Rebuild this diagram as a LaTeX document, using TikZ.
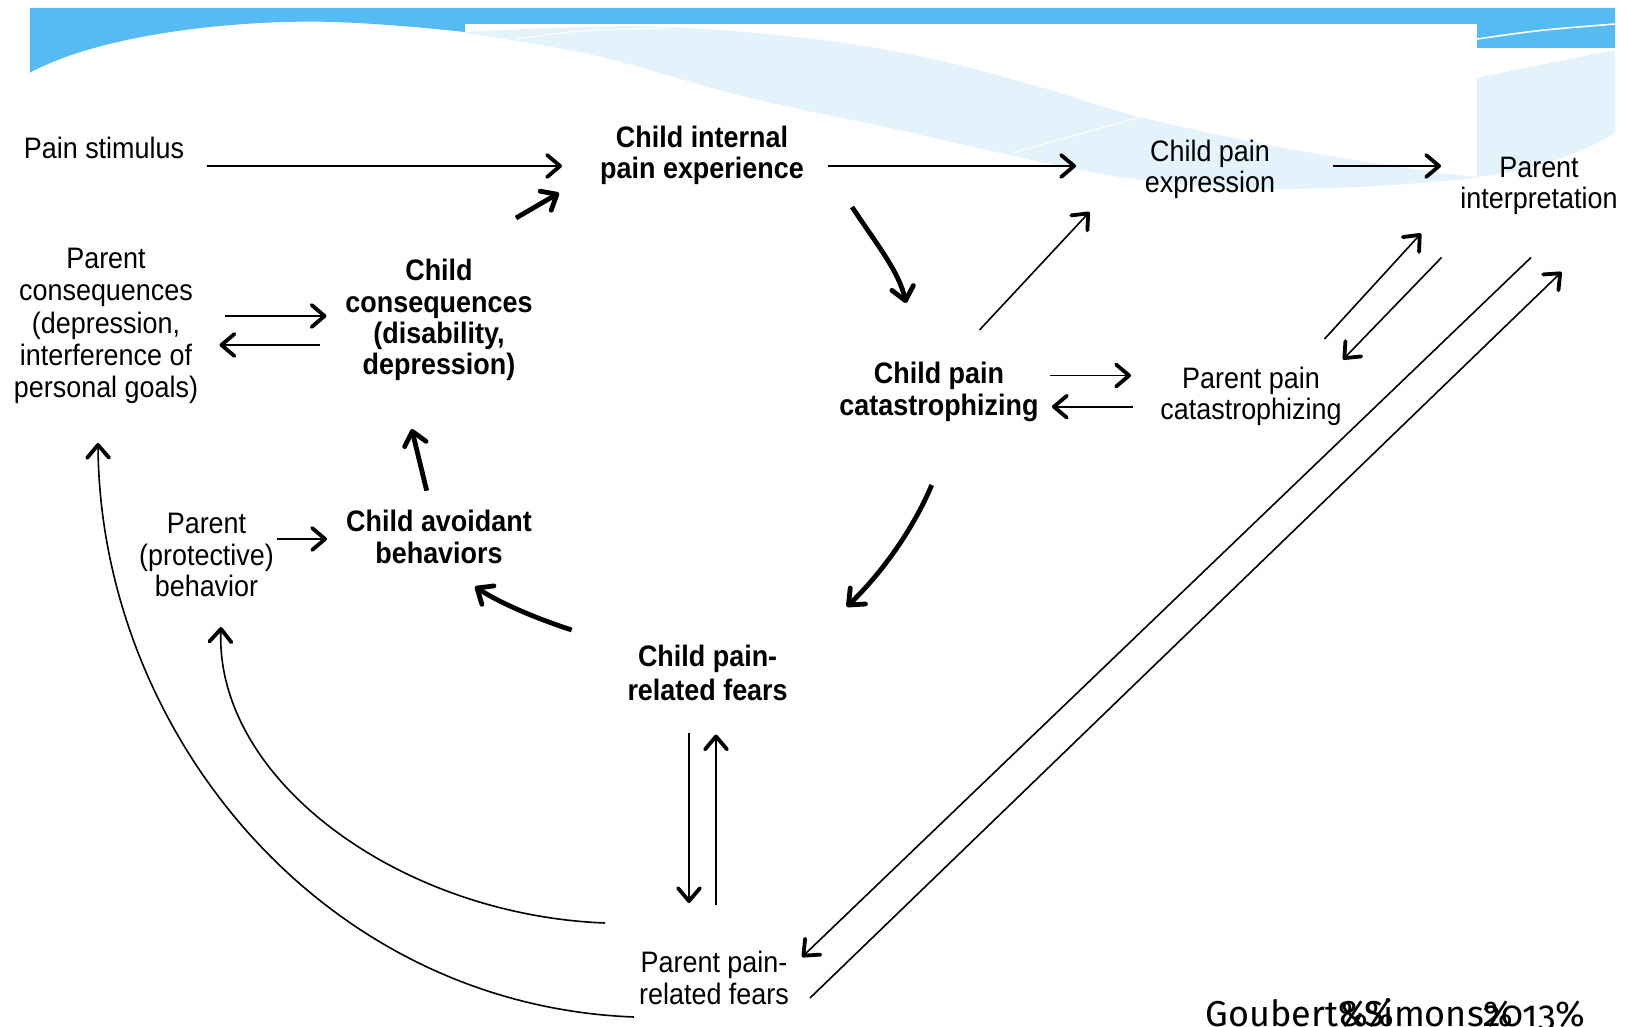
\documentclass[tikz,border=0pt]{standalone}
\usepackage{fontspec}
\setmainfont{Liberation Sans}[FakeStretch=0.91]
\newfontfamily\citefont{Fira Sans}[Numbers=OldStyle]
\usetikzlibrary{arrows.meta}
\definecolor{bannerblue}{RGB}{86,187,243}
\definecolor{wavelight}{RGB}{227,242,251}
\begin{document}
\begin{tikzpicture}[x=0.5pt,y=-0.5pt,
  lbl/.style={font=\fontsize{14.8}{15.6}\selectfont, align=center, inner sep=0pt},
  blbl/.style={font=\fontsize{14.8}{15.6}\selectfont\bfseries, align=center, inner sep=0pt},
  thinarr/.style={line width=0.8pt, -{Straight Barb[length=6.5pt,width=11pt,line width=1.9pt,round]}},
  thickarr/.style={line width=2.4pt, -{Straight Barb[length=6.5pt,width=11pt,line width=2.4pt,round]}},
  wline/.style={white, line width=0.6pt}
]
\useasboundingbox (0,0) rectangle (1627,1027);
% banner
\fill[bannerblue] (30,8) -- (1615,8) -- (1615,48) -- (1477,48) -- (1477,24) -- (465,24) -- (465,32)
  .. controls (400,25) and (340,21) .. (300,21.7)
  .. controls (200,23) and (90,40) .. (30,72.7) -- cycle;
\draw[wline, line width=0.8pt] (1477,39) .. controls (1540,30) .. (1615,24);
\fill[wavelight] plot[smooth, tension=0.6] coordinates {(465,32) (555,28) (670,27) (823,40) (937,60) (1040,87) (1140,117) (1280,147) (1420,170) (1477,177)}
  -- plot[smooth, tension=0.6] coordinates {(1477,178) (1360,187) (1240,188) (1120,177) (1000,153) (899,130) (746,97) (593,55) (465,33)} -- cycle;
\fill[wavelight] (1477,78) .. controls (1540,65) .. (1615,50) -- (1615,133)
  .. controls (1570,160) and (1520,172) .. (1477,177) -- cycle;
\draw[wline] (516,39) .. controls (580,30) .. (670,28);
\draw[wline] (1012,153) -- (1140,117);

% nodes
\node[lbl] (ps) at (104,148) {Pain stimulus};
\node[blbl] (ci) at (702,155) {Child internal\\pain experience};
\node[lbl] (cpe) at (1210,169.5) {Child pain\\expression};
\node[lbl] (pi) at (1539,185.5) {Parent\\interpretation};
\node[lbl, font=\fontsize{14.8}{16.2}\selectfont] (pc) at (106,326) {Parent\\consequences\\(depression,\\interference of\\personal goals)};
\node[blbl] (cc) at (439,320) {Child\\consequences\\(disability,\\depression)};
\node[blbl] (cpc) at (939,392) {Child pain\\catastrophizing};
\node[lbl] (ppc) at (1251,396) {Parent pain\\catastrophizing};
\node[lbl] (ppb) at (206.5,555) {Parent\\(protective)\\behavior};
\node[blbl] (cab) at (439,537) {Child avoidant\\behaviors};
\node[blbl, font=\fontsize{14.8}{16.6}\selectfont\bfseries] (cpf) at (707.6,673) {Child pain-\\related fears};
\node[lbl] (ppf) at (714,978) {Parent pain-\\related fears};
\node[anchor=base west, inner sep=0pt, font=\citefont\fontsize{18}{20}\selectfont] (cite) at (1205,1026) {Goubert\rlap{\%}\&\rlap{\%}Simons\rlap{\%}2013\%};

% connector end points
\coordinate (c1a) at (206.5,166); \coordinate (c1b) at (562,166);
\coordinate (c2a) at (828,166); \coordinate (c2b) at (1076,166);
\coordinate (c3a) at (1333,166); \coordinate (c3b) at (1441,166);
\coordinate (c4a) at (516,218); \coordinate (c4b) at (559,193);
\coordinate (c5a) at (852,207); \coordinate (c5b) at (906,303);
\coordinate (c6a) at (979.5,330); \coordinate (c6b) at (1089.5,212);
\coordinate (c7a) at (1050,375.5); \coordinate (c7b) at (1131,375.5);
\coordinate (c8a) at (1133,406.7); \coordinate (c8b) at (1052,406.7);
\coordinate (c9a) at (1324.5,339); \coordinate (c9b) at (1421,233.5);
\coordinate (c10a) at (1441.5,257.5); \coordinate (c10b) at (1343,359.5);
\coordinate (c11a) at (1531,257.5); \coordinate (c11b) at (802,957);
\coordinate (c12a) at (810,998); \coordinate (c12b) at (1561.5,272);
\coordinate (c13a) at (931.7,485); \coordinate (c13b) at (846.7,606.7);
\coordinate (c14a) at (571.7,630); \coordinate (c14b) at (475,586.7);
\coordinate (c15a) at (426.7,490.7); \coordinate (c15b) at (411.7,429);
\coordinate (c16a) at (225,316); \coordinate (c16b) at (326.5,316);
\coordinate (c17a) at (319.6,345); \coordinate (c17b) at (219.5,345);
\coordinate (c18a) at (277,539); \coordinate (c18b) at (327,539);
\coordinate (c19a) at (689,732.5); \coordinate (c19b) at (689,903);
\coordinate (c20a) at (716,905); \coordinate (c20b) at (716,734.5);
\coordinate (c21a) at (605,923); \coordinate (c21b) at (221,627);
\coordinate (c22a) at (634,1017); \coordinate (c22b) at (98,443);

% connectors
\draw[thinarr] (c1a) -- (c1b);
\draw[thinarr] (c2a) -- (c2b);
\draw[thinarr] (c3a) -- (c3b);
\draw[thickarr] (c4a) -- (c4b);
\draw[thickarr] (c5a) .. controls (878,246) and (899,272) .. (c5b);
\draw[thinarr] (c6a) -- (c6b);
\draw[thinarr] (c7a) -- (c7b);
\draw[thinarr] (c8a) -- (c8b);
\draw[thinarr] (c9a) -- (c9b);
\draw[thinarr] (c10a) -- (c10b);
\draw[thinarr] (c11a) -- (c11b);
\draw[thinarr] (c12a) -- (c12b);
\draw[thickarr] (c13a) .. controls (915,525) and (885,570) .. (c13b);
\draw[thickarr] (c14a) .. controls (535,618) and (500,603) .. (c14b);
\draw[thickarr] (c15a) -- (c15b);
\draw[thinarr] (c16a) -- (c16b);
\draw[thinarr] (c17a) -- (c17b);
\draw[thinarr] (c18a) -- (c18b);
\draw[thinarr] (c19a) -- (c19b);
\draw[thinarr] (c20a) -- (c20b);
\draw[thinarr] (c21a) .. controls (400,915) and (215,780) .. (c21b);
\draw[thinarr] (c22a) .. controls (320,1005) and (100,730) .. (c22b);
\end{tikzpicture}
\end{document}
